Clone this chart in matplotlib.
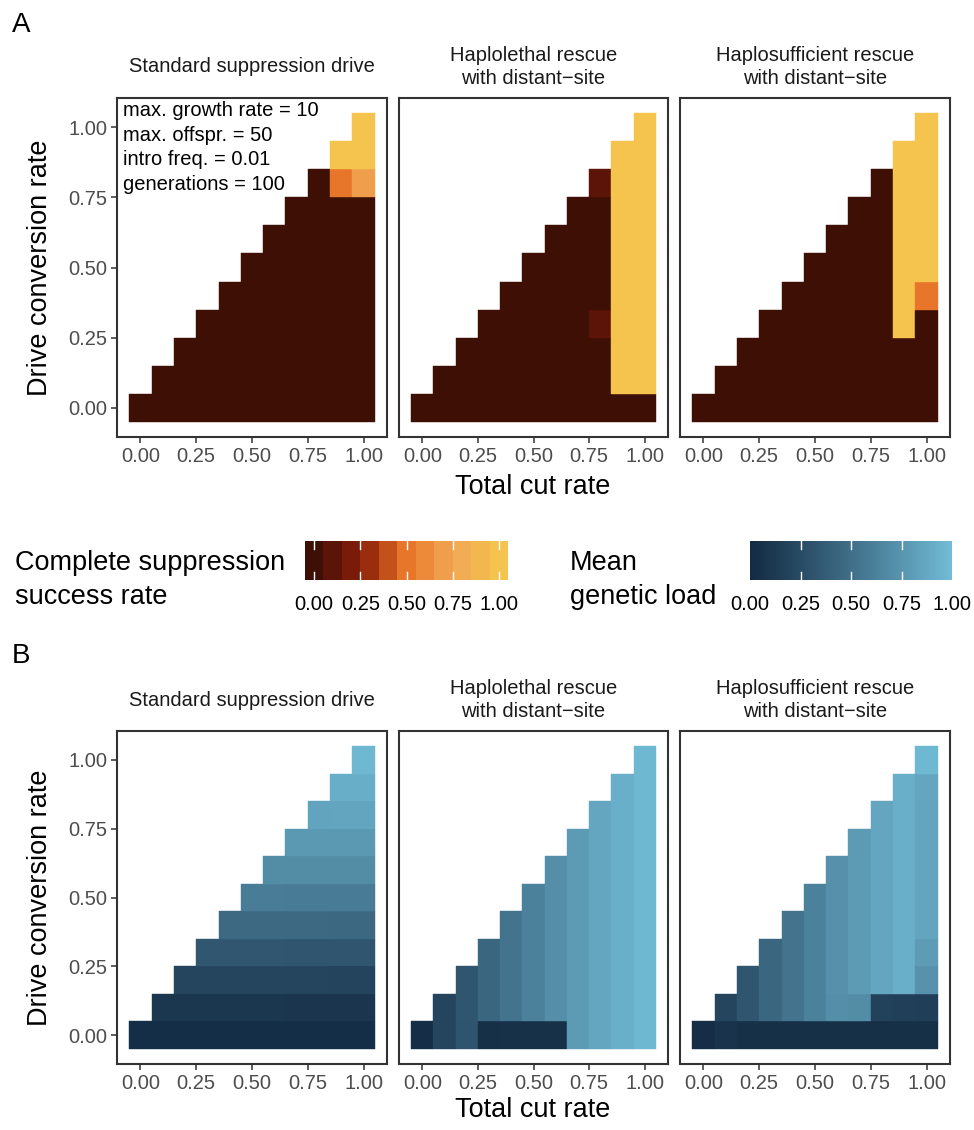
import numpy as np
import matplotlib
matplotlib.use("Agg")
import matplotlib.pyplot as plt
from matplotlib.colors import LinearSegmentedColormap, ListedColormap, to_rgb

plt.rcParams['font.family'] = ['Liberation Sans', 'DejaVu Sans']

# ---------------- data ----------------
cut_rates = [0.0, 0.1, 0.2, 0.3, 0.4, 0.5, 0.6, 0.7, 0.8, 0.9, 1.0]
conv_rates = [0.0, 0.1, 0.2, 0.3, 0.4, 0.5, 0.6, 0.7, 0.8, 0.9, 1.0]
panel_titles = ["Standard suppression drive",
                "Haplolethal rescue\nwith distant\u2212site",
                "Haplosufficient rescue\nwith distant\u2212site"]
tick_vals = [0.0, 0.25, 0.5, 0.75, 1.0]
tick_labels = ["0.00", "0.25", "0.50", "0.75", "1.00"]
n = np.nan

# Complete suppression success rate (rows: conversion rate 0..1, cols: cut rate 0..1)
success_standard = [
    [0, 0, 0, 0, 0, 0, 0, 0, 0, 0, 0],
    [n, 0, 0, 0, 0, 0, 0, 0, 0, 0, 0],
    [n, n, 0, 0, 0, 0, 0, 0, 0, 0, 0],
    [n, n, n, 0, 0, 0, 0, 0, 0, 0, 0],
    [n, n, n, n, 0, 0, 0, 0, 0, 0, 0],
    [n, n, n, n, n, 0, 0, 0, 0, 0, 0],
    [n, n, n, n, n, n, 0, 0, 0, 0, 0],
    [n, n, n, n, n, n, n, 0, 0, 0, 0],
    [n, n, n, n, n, n, n, n, 0, 0.5, 0.7],
    [n, n, n, n, n, n, n, n, n, 1, 1],
    [n, n, n, n, n, n, n, n, n, n, 1],
]
success_haplolethal = [
    [0, 0, 0, 0, 0, 0, 0, 0, 0, 0, 0],
    [n, 0, 0, 0, 0, 0, 0, 0, 0, 1, 1],
    [n, n, 0, 0, 0, 0, 0, 0, 0, 1, 1],
    [n, n, n, 0, 0, 0, 0, 0, 0.1, 1, 1],
    [n, n, n, n, 0, 0, 0, 0, 0, 1, 1],
    [n, n, n, n, n, 0, 0, 0, 0, 1, 1],
    [n, n, n, n, n, n, 0, 0, 0, 1, 1],
    [n, n, n, n, n, n, n, 0, 0, 1, 1],
    [n, n, n, n, n, n, n, n, 0.1, 1, 1],
    [n, n, n, n, n, n, n, n, n, 1, 1],
    [n, n, n, n, n, n, n, n, n, n, 1],
]
success_haplosufficient = [
    [0, 0, 0, 0, 0, 0, 0, 0, 0, 0, 0],
    [n, 0, 0, 0, 0, 0, 0, 0, 0, 0, 0],
    [n, n, 0, 0, 0, 0, 0, 0, 0, 0, 0],
    [n, n, n, 0, 0, 0, 0, 0, 0, 1, 0],
    [n, n, n, n, 0, 0, 0, 0, 0, 1, 0.5],
    [n, n, n, n, n, 0, 0, 0, 0, 1, 1],
    [n, n, n, n, n, n, 0, 0, 0, 1, 1],
    [n, n, n, n, n, n, n, 0, 0, 1, 1],
    [n, n, n, n, n, n, n, n, 0, 1, 1],
    [n, n, n, n, n, n, n, n, n, 1, 1],
    [n, n, n, n, n, n, n, n, n, n, 1],
]

# Mean genetic load
load_standard = [
    [0.03, 0.03, 0.03, 0.03, 0.03, 0.03, 0.03, 0.03, 0.03, 0.03, 0.03],
    [n, 0.09, 0.09, 0.09, 0.09, 0.09, 0.09, 0.08, 0.08, 0.08, 0.08],
    [n, n, 0.20, 0.20, 0.20, 0.20, 0.20, 0.20, 0.20, 0.19, 0.19],
    [n, n, n, 0.33, 0.33, 0.33, 0.33, 0.32, 0.32, 0.32, 0.32],
    [n, n, n, n, 0.46, 0.46, 0.46, 0.46, 0.46, 0.45, 0.45],
    [n, n, n, n, n, 0.59, 0.59, 0.58, 0.58, 0.58, 0.58],
    [n, n, n, n, n, n, 0.69, 0.69, 0.69, 0.69, 0.69],
    [n, n, n, n, n, n, n, 0.77, 0.77, 0.77, 0.77],
    [n, n, n, n, n, n, n, n, 0.84, 0.85, 0.85],
    [n, n, n, n, n, n, n, n, n, 0.91, 0.91],
    [n, n, n, n, n, n, n, n, n, n, 0.97],
]
load_haplolethal = [
    [0.02, 0.20, 0.31, 0.04, 0.05, 0.05, 0.05, 0.79, 0.86, 0.92, 0.97],
    [n, 0.20, 0.32, 0.44, 0.53, 0.62, 0.71, 0.79, 0.86, 0.92, 0.97],
    [n, n, 0.32, 0.44, 0.53, 0.62, 0.71, 0.79, 0.86, 0.92, 0.97],
    [n, n, n, 0.44, 0.53, 0.62, 0.71, 0.79, 0.86, 0.92, 0.97],
    [n, n, n, n, 0.53, 0.62, 0.71, 0.79, 0.86, 0.92, 0.97],
    [n, n, n, n, n, 0.62, 0.71, 0.79, 0.86, 0.92, 0.97],
    [n, n, n, n, n, n, 0.71, 0.79, 0.86, 0.92, 0.97],
    [n, n, n, n, n, n, n, 0.79, 0.86, 0.92, 0.97],
    [n, n, n, n, n, n, n, n, 0.86, 0.92, 0.97],
    [n, n, n, n, n, n, n, n, n, 0.92, 0.97],
    [n, n, n, n, n, n, n, n, n, n, 0.97],
]
load_haplosufficient = [
    [0.02, 0.07, 0.04, 0.04, 0.04, 0.04, 0.04, 0.04, 0.04, 0.04, 0.04],
    [n, 0.20, 0.32, 0.44, 0.53, 0.62, 0.71, 0.69, 0.17, 0.16, 0.15],
    [n, n, 0.32, 0.44, 0.53, 0.62, 0.72, 0.79, 0.86, 0.92, 0.73],
    [n, n, n, 0.44, 0.53, 0.62, 0.72, 0.79, 0.86, 0.92, 0.80],
    [n, n, n, n, 0.53, 0.62, 0.72, 0.79, 0.86, 0.92, 0.85],
    [n, n, n, n, n, 0.62, 0.72, 0.79, 0.86, 0.92, 0.85],
    [n, n, n, n, n, n, 0.72, 0.79, 0.86, 0.92, 0.85],
    [n, n, n, n, n, n, n, 0.79, 0.86, 0.92, 0.85],
    [n, n, n, n, n, n, n, n, 0.86, 0.92, 0.85],
    [n, n, n, n, n, n, n, n, n, 0.92, 0.86],
    [n, n, n, n, n, n, n, n, n, n, 0.97],
]

success_palette = ["#3D0F05", "#5C1407", "#7A1A09", "#9B2D0D", "#C3521A",
                   "#E8762A", "#EC8A39", "#EF9E4B", "#F1AC54", "#F2B74F", "#F4C44F"]
load_low, load_high = "#132B43", "#72BCD6"

# ---------------- colour maps ----------------
WHITE = np.array([0.95047, 1.0, 1.08883])
M = np.array([[0.4124, 0.3576, 0.1805], [0.2126, 0.7152, 0.0722], [0.0193, 0.1192, 0.9505]])
Minv = np.linalg.inv(M)


def to_lab(c):
    rgb = np.array(to_rgb(c))
    lin = np.where(rgb <= 0.04045, rgb / 12.92, ((rgb + 0.055) / 1.055) ** 2.4)
    t = (M @ lin) / WHITE
    f = np.where(t > 0.008856, np.cbrt(t), 7.787 * t + 16 / 116)
    return np.array([116 * f[1] - 16, 500 * (f[0] - f[1]), 200 * (f[1] - f[2])])


def from_lab(lab):
    fy = (lab[0] + 16) / 116
    fx = fy + lab[1] / 500
    fz = fy - lab[2] / 200
    f = np.array([fx, fy, fz])
    t = np.where(f ** 3 > 0.008856, f ** 3, (f - 16 / 116) / 7.787) * WHITE
    lin = Minv @ t
    lin = np.clip(lin, 0, 1)
    rgb = np.where(lin <= 0.0031308, 12.92 * lin, 1.055 * lin ** (1 / 2.4) - 0.055)
    return np.clip(rgb, 0, 1)


lab_lo, lab_hi = to_lab(load_low), to_lab(load_high)
load_cmap = ListedColormap([from_lab(lab_lo + (lab_hi - lab_lo) * s) for s in np.linspace(0, 1, 256)])
success_cmap = LinearSegmentedColormap.from_list("succ", success_palette, N=256)

# ---------------- layout ----------------
W, H = 974, 1130
fig = plt.figure(figsize=(W / 100, H / 100), dpi=100)


def px_axes(x0, y0, x1, y1):
    return fig.add_axes([x0 / W, 1 - y1 / H, (x1 - x0) / W, (y1 - y0) / H])


panel_x = [(117, 387), (399, 668), (680, 950)]
row_y = [(98, 437), (731, 1064)]
xlabel_offset = [50, 46]
dark = "#333333"
grey_txt = "#4D4D4D"

xs = np.array(cut_rates)
ys = np.array(conv_rates)
dx = xs[1] - xs[0]
dy = ys[1] - ys[0]
x_edges = np.append(xs - dx / 2, xs[-1] + dx / 2)
y_edges = np.append(ys - dy / 2, ys[-1] + dy / 2)
lo = x_edges[0] - 0.05 * (x_edges[-1] - x_edges[0])
hi = x_edges[-1] + 0.05 * (x_edges[-1] - x_edges[0])

rows = [
    ([success_standard, success_haplolethal, success_haplosufficient], success_cmap),
    ([load_standard, load_haplolethal, load_haplosufficient], load_cmap),
]

for r, (mats, cmap) in enumerate(rows):
    y0, y1 = row_y[r]
    for p, mat in enumerate(mats):
        x0, x1 = panel_x[p]
        ax = px_axes(x0, y0, x1, y1)
        data = np.ma.masked_invalid(np.array(mat, dtype=float))
        ax.pcolormesh(x_edges, y_edges, data, cmap=cmap, vmin=0, vmax=1,
                      edgecolors='face', linewidth=0.3, antialiased=True)
        ax.set_xlim(lo, hi)
        ax.set_ylim(lo, hi)
        ax.set_xticks(tick_vals)
        ax.set_xticklabels(tick_labels)
        ax.set_yticks(tick_vals)
        ax.set_yticklabels(tick_labels)
        for s in ax.spines.values():
            s.set_color(dark)
            s.set_linewidth(1.5)
        ax.tick_params(axis='both', colors=dark, length=4, width=1.1,
                       labelsize=14.5, labelcolor=grey_txt, pad=3)
        if p != 0:
            ax.tick_params(axis='y', left=False, labelleft=False)
        ax.set_facecolor("white")
        # strip title
        strip_center = y0 - 31
        ax.text(0.5, (y1 - strip_center) / (y1 - y0), panel_titles[p],
                transform=ax.transAxes, ha='center', va='center',
                fontsize=14.5, color="#1A1A1A", linespacing=1.3)
        if r == 0 and p == 0:
            ax.text(0.022, 0.99,
                    "max. growth rate = 10\nmax. offspr. = 50\nintro freq. = 0.01\ngenerations = 100",
                    transform=ax.transAxes, ha='left', va='top', fontsize=14.5,
                    color="black", linespacing=1.37)
    # axis titles
    fig.text(533 / W, 1 - (y1 + xlabel_offset[r]) / H, "Total cut rate", ha='center', va='center',
             fontsize=19.5, color="black")
    fig.text(40 / W, 1 - ((y0 + y1) / 2) / H, "Drive conversion rate", ha='center',
             va='center', rotation=90, fontsize=19.5, color="black")

fig.text(12 / W, 1 - 25 / H, "A", fontsize=20, va='center', ha='left')
fig.text(12 / W, 1 - 656 / H, "B", fontsize=20, va='center', ha='left')

# ---------------- legends ----------------
def white_ticks(cax, vals):
    for v in vals:
        cax.plot([v, v], [0, 0.2], color='white', lw=1, transform=cax.get_xaxis_transform())
        cax.plot([v, v], [0.8, 1.0], color='white', lw=1, transform=cax.get_xaxis_transform())


# success bar (11 bins)
cax1 = px_axes(305, 541, 508, 580)
bins = np.array(cut_rates)
bedges = np.append(bins - dx / 2, bins[-1] + dx / 2)
cax1.pcolormesh(bedges, [0, 1], bins[np.newaxis, :], cmap=success_cmap, vmin=0, vmax=1)
cax1.set_xlim(bedges[0], bedges[-1])
cax1.set_ylim(0, 1)
white_ticks(cax1, tick_vals)
cax1.set_yticks([])
cax1.set_xticks(tick_vals)
cax1.set_xticklabels(tick_labels)
cax1.tick_params(axis='x', length=0, labelsize=14.5, pad=11, labelcolor="black")
for s in cax1.spines.values():
    s.set_visible(False)

# load bar (smooth)
cax2 = px_axes(750, 541, 952, 580)
grad = np.linspace(0, 1, 300)
cax2.imshow(grad[np.newaxis, :], cmap=load_cmap, vmin=0, vmax=1, aspect='auto',
            extent=(0, 1, 0, 1), interpolation='nearest')
cax2.set_xlim(0, 1)
cax2.set_ylim(0, 1)
white_ticks(cax2, tick_vals[1:-1])
cax2.set_yticks([])
cax2.set_xticks(tick_vals)
cax2.set_xticklabels(tick_labels)
cax2.tick_params(axis='x', length=0, labelsize=14.5, pad=11, labelcolor="black")
for s in cax2.spines.values():
    s.set_visible(False)

fig.text(15 / W, 1 - 580 / H, "Complete suppression\nsuccess rate", ha='left', va='center',
         fontsize=19.5, color="black", linespacing=1.38)
fig.text(570 / W, 1 - 580 / H, "Mean\ngenetic load", ha='left', va='center',
         fontsize=19.5, color="black", linespacing=1.38)

fig.savefig("out.png", dpi=100, facecolor="white")
